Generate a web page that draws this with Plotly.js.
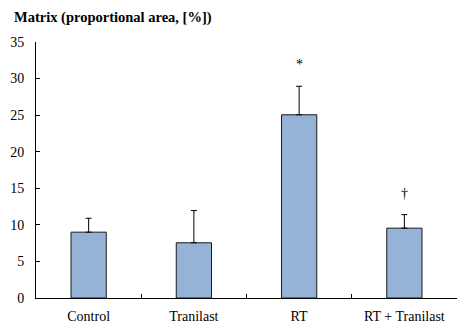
<!DOCTYPE html>
<html>
<head>
<meta charset="utf-8">
<script src="https://cdn.plot.ly/plotly-3.0.1.min.js"></script>
<style>html,body{margin:0;padding:0;background:#fff;}#chart{width:457px;height:324px;}</style>
</head>
<body>
<div id="chart"></div>
<script>
const categories = ["Control", "Tranilast", "RT", "RT + Tranilast"];
const meanValues = [9.0, 7.55, 25.05, 9.55];
const errorUp = [1.9, 4.4, 3.9, 1.85];
const markers = ["", "", "*", "†"];
const yTicks = [0, 5, 10, 15, 20, 25, 30, 35];

const FONT = "Liberation Serif";

const trace = {
  type: "bar",
  x: categories,
  y: meanValues,
  width: 0.335,
  marker: {color: "#95B3D7", line: {color: "#1a1a1a", width: 1}},
  error_y: {type: "data", symmetric: false, array: errorUp,
            arrayminus: meanValues.map(() => 0),
            color: "#000", thickness: 1, width: 3},
  hoverinfo: "none"
};

const annotations = [{
  text: "<b>Matrix (proportional area, [%])</b>",
  xref: "paper", yref: "paper", x: -0.058, y: 1.0, xanchor: "left", yanchor: "bottom",
  yshift: 14, showarrow: false, font: {family: FONT, size: 14.5, color: "#000"}
}];
categories.forEach((c, i) => {
  if (markers[i]) {
    annotations.push({
      text: markers[i], x: c, y: meanValues[i] + errorUp[i], xref: "x", yref: "y",
      yanchor: "bottom", yshift: 12, showarrow: false,
      font: {family: FONT, size: 14, color: "#000"}
    });
  }
});

const layout = {
  width: 457, height: 324,
  margin: {l: 36, r: 0, t: 42, b: 26, pad: 0},
  paper_bgcolor: "#fff", plot_bgcolor: "#fff",
  showlegend: false,
  font: {family: FONT, size: 14, color: "#000"},
  xaxis: {
    type: "category", showline: true, linecolor: "#000", linewidth: 1,
    ticks: "inside", tickson: "boundaries", ticklen: 4, tickcolor: "#000",
    showgrid: false, zeroline: false, fixedrange: true, ticklabelstandoff: 5,
    tickfont: {family: FONT, size: 14, color: "#000"}
  },
  yaxis: {
    range: [0, 35], tickvals: yTicks, ticktext: yTicks.map(String),
    showline: true, linecolor: "#000", linewidth: 1,
    ticks: "inside", ticklen: 4, tickcolor: "#000",
    showgrid: false, zeroline: false, fixedrange: true, ticklabelstandoff: 8,
    tickfont: {family: FONT, size: 14, color: "#000"}
  },
  annotations: annotations
};

Plotly.newPlot("chart", [trace], layout, {displayModeBar: false, staticPlot: true});
</script>
</body>
</html>
